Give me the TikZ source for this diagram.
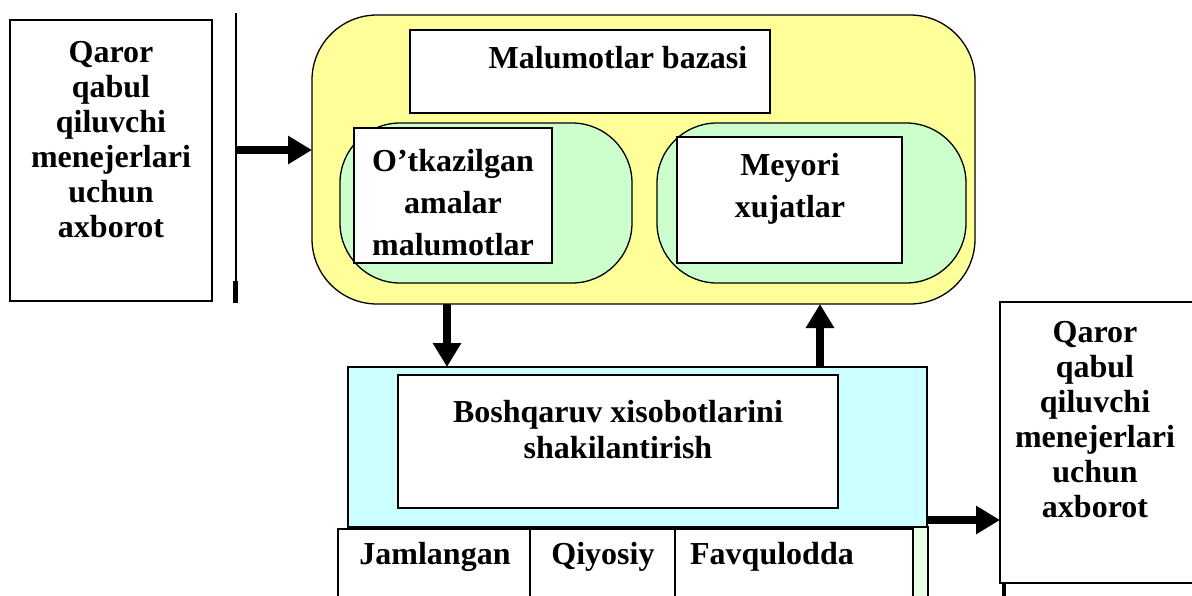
\documentclass[tikz,border=0pt]{standalone}
\usepackage{fontspec}
\setmainfont{Liberation Serif}
\usetikzlibrary{arrows.meta}
\definecolor{yel}{RGB}{255,255,153}
\definecolor{grn}{RGB}{204,255,204}
\definecolor{cyn}{RGB}{204,255,255}
\definecolor{lgrn}{RGB}{230,255,230}
\tikzset{
  box/.style={draw=black, line width=1.3pt, fill=white},
  txt/.style={font=\fontsize{32}{35}\selectfont\bfseries, align=center, inner sep=0pt},
  txtw/.style={font=\fontsize{32}{42}\selectfont\bfseries, align=center, inner sep=0pt},
  txtb/.style={font=\fontsize{32}{36}\selectfont\bfseries, align=center, inner sep=0pt},
  arr/.style={line width=8pt, -{Triangle[length=24pt,width=27pt]}},
}
\begin{document}
\begin{tikzpicture}[x=1pt,y=-1pt]
\useasboundingbox (0,0) rectangle (1192,595);
% left box
\draw[box] (10,20) rectangle (212,301);
\node[txt] (lt) at (111,140) {Qaror\\qabul\\qiluvchi\\menejerlari\\uchun\\axborot};
\draw[line width=2.6pt] (236,13) -- (236,303);
\draw[line width=5pt] (235,281) -- (235,303);
\coordinate (vl) at (236,150);
% yellow
\draw[line width=1.3pt, fill=yel, rounded corners=65pt] (312,15) rectangle (975,304);
\coordinate (yw) at (312,150);
\draw[box] (410,30) rectangle (770,113);
\node[txt] (mb) at (618,58) {Malumotlar bazasi};
\draw[line width=1.3pt, fill=grn, rounded corners=60pt] (340,123) rectangle (632,283);
\draw[box] (354,128) rectangle (552,263);
\node[txtw] (ot) at (453,203) {O’tkazilgan\\amalar\\malumotlar};
\draw[line width=1.3pt, fill=grn, rounded corners=60pt] (657,123) rectangle (966,283);
\draw[box] (677,137) rectangle (902,263);
\node[txtw] (mx) at (790,189) {Meyori\\xujatlar};
\draw[arr] (vl) -- (yw);
% cyan
\draw[line width=1.3pt, fill=cyn] (348,367) rectangle (927,527);
\draw[box] (398,375) rectangle (838,508);
\node[txtb] (bx) at (618,430) {Boshqaruv xisobotlarini\\shakilantirish};
\coordinate (d1) at (447,304);
\coordinate (d2) at (447,367);
\coordinate (u1) at (820,367);
\coordinate (u2) at (820,304);
\draw[arr] (d1) -- (d2);
\draw[arr] (u1) -- (u2);
% bottom cells
\draw[line width=1.3pt, fill=lgrn] (913,527) rectangle (928,600);
\draw[box] (338,529) rectangle (530,600);
\draw[box] (530,529) rectangle (675,600);
\draw[box] (675,529) rectangle (913,600);
\node[txt] (jm) at (435,557) {Jamlangan};
\node[txt] (qy) at (603,557) {Qiyosiy};
\node[txt] (fv) at (772,557) {Favqulodda};
% right box
\draw[box] (1000,302) rectangle (1195,583);
\node[txt] (rt) at (1095,420) {Qaror\\qabul\\qiluvchi\\menejerlari\\uchun\\axborot};
\draw[line width=4pt] (1004,583) -- (1004,600);
\coordinate (cr) at (927,520);
\coordinate (rb) at (1000,520);
\draw[arr] (cr) -- (rb);
\end{tikzpicture}
\end{document}
